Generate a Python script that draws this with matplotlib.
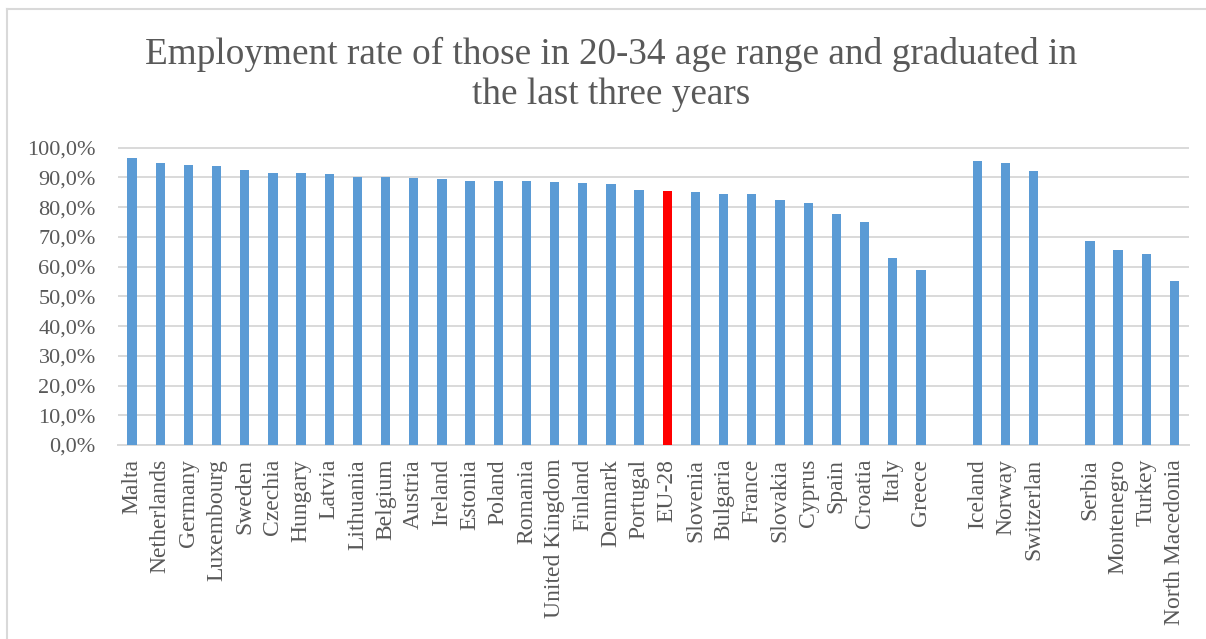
import matplotlib.pyplot as plt
from matplotlib.lines import Line2D

BLUE = "#5b9bd5"
RED = "#ff0000"
TEXT = "#595959"
GRID = "#d9d9d9"

# Employment rate (share) per country; empty strings are spacer slots between groups
countries = [
    "Malta", "Netherlands", "Germany", "Luxembourg", "Sweden", "Czechia",
    "Hungary", "Latvia", "Lithuania", "Belgium", "Austria", "Ireland",
    "Estonia", "Poland", "Romania", "United Kingdom", "Finland", "Denmark",
    "Portugal", "EU-28", "Slovenia", "Bulgaria", "France", "Slovakia",
    "Cyprus", "Spain", "Croatia", "Italy", "Greece",
    "",
    "Iceland", "Norway", "Switzerlan",
    "",
    "Serbia", "Montenegro", "Turkey", "North Macedonia",
]
rates = [
    0.965, 0.947, 0.942, 0.939, 0.925, 0.914,
    0.914, 0.913, 0.902, 0.901, 0.899, 0.895,
    0.889, 0.888, 0.888, 0.883, 0.882, 0.878,
    0.858, 0.854, 0.852, 0.844, 0.843, 0.823,
    0.813, 0.778, 0.751, 0.628, 0.589,
    None,
    0.956, 0.947, 0.922,
    None,
    0.687, 0.656, 0.641, 0.552,
]
y_ticks = [i / 10 for i in range(11)]
y_tick_labels = [f"{t * 100:.1f}%".replace(".", ",") for t in y_ticks]

plt.rcParams["font.family"] = ["Liberation Serif", "DejaVu Serif"]

fig = plt.figure(figsize=(12.06, 6.39), dpi=100)
ax = fig.add_axes([0.0978, 0.3036, 0.8877, 0.4676])

xs = [i for i, r in enumerate(rates) if r is not None]
hs = [r for r in rates if r is not None]
colors = [RED if countries[i] == "EU-28" else BLUE for i in xs]
ax.bar(xs, hs, width=0.33, color=colors, zorder=3)

ax.set_xlim(-0.5, len(countries) - 0.5)
ax.set_ylim(0, 1.005)
ax.set_yticks(y_ticks)
ax.set_yticklabels(y_tick_labels)
ax.set_xticks(range(len(countries)))
ax.set_xticklabels(countries, rotation=90, va="top", ha="center")

ax.tick_params(axis="y", length=0, pad=16, labelsize=16, labelcolor=TEXT)
ax.tick_params(axis="x", length=0, pad=10, labelsize=17, labelcolor=TEXT)
ax.grid(axis="y", color=GRID, linewidth=1.4, zorder=0)
for side in ["top", "right", "left"]:
    ax.spines[side].set_visible(False)
ax.spines["bottom"].set_color(GRID)
ax.spines["bottom"].set_linewidth(1.4)

fig.text(0.507, 0.883, "Employment rate of those in 20-34 age range and graduated in\nthe last three years",
         ha="center", va="center", fontsize=26.8, color=TEXT, linespacing=1.22)

# chart frame (top and left edges)
fig.add_artist(Line2D([7 / 1206, 1.0], [1 - 9 / 639, 1 - 9 / 639], color=GRID, linewidth=1.5))
fig.add_artist(Line2D([7 / 1206, 7 / 1206], [0.0, 1 - 9 / 639], color=GRID, linewidth=1.5))

fig.savefig("out.png", dpi=100)
